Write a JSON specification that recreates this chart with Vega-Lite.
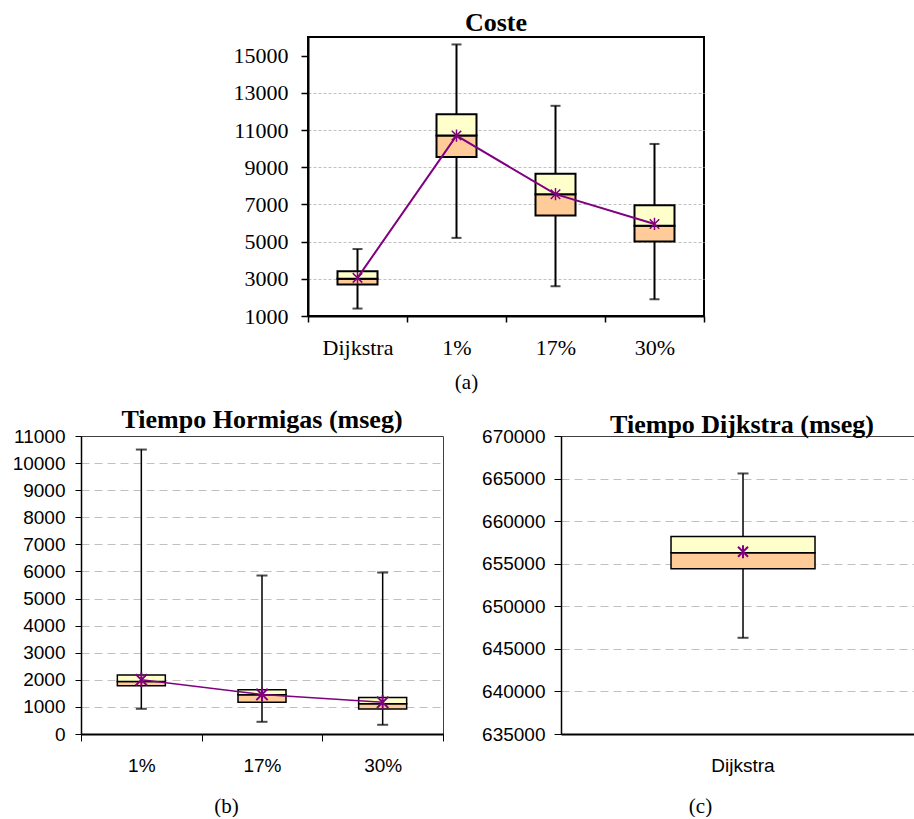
{
  "$schema": "https://vega.github.io/schema/vega-lite/v6.json",
  "padding": {"left": 11, "top": 9, "right": 0, "bottom": 0},
  "background": "white",
  "spacing": 13,
  "datasets": {
    "coste": [
      {"cat": "Dijkstra", "i": 0, "min": 1400, "q1": 2700, "median": 3000, "q3": 3400, "max": 4600, "mean": 3050},
      {"cat": "1%", "i": 1, "min": 5200, "q1": 9550, "median": 10700, "q3": 11850, "max": 15600, "mean": 10700},
      {"cat": "17%", "i": 2, "min": 2600, "q1": 6400, "median": 7550, "q3": 8650, "max": 12300, "mean": 7550},
      {"cat": "30%", "i": 3, "min": 1900, "q1": 5000, "median": 5850, "q3": 6950, "max": 10250, "mean": 5950}
    ],
    "hormigas": [
      {"cat": "1%", "i": 0, "min": 930, "q1": 1780, "median": 1940, "q3": 2175, "max": 10500, "mean": 2000},
      {"cat": "17%", "i": 1, "min": 450, "q1": 1170, "median": 1450, "q3": 1630, "max": 5850, "mean": 1460},
      {"cat": "30%", "i": 2, "min": 340, "q1": 920, "median": 1120, "q3": 1350, "max": 5960, "mean": 1170}
    ],
    "dijkstra": [
      {"cat": "Dijkstra", "i": 0, "min": 646300, "q1": 654400, "median": 656300, "q3": 658200, "max": 665600, "mean": 656400}
    ]
  },
  "config": {
    "view": {"stroke": "black"},
    "axis": {"domainColor": "black", "tickColor": "black", "labelColor": "black", "titleColor": "black", "gridColor": "#c0c0c0", "labelFont": "Liberation Sans", "titleFont": "Liberation Serif", "titleFontWeight": "normal", "labelOverlap": false, "labelBound": false},
    "title": {"font": "Liberation Serif", "fontWeight": "bold", "color": "black", "baseline": "alphabetic", "frame": "group"}
  },
  "vconcat": [
    {
      "bounds": "flush",
      "spacing": 226,
      "hconcat": [
        {"width": 1, "height": 1, "data": {"values": []}, "mark": "point", "view": {"stroke": null}},
        {
          "width": 396, "height": 279,
          "title": {"text": "Coste", "fontSize": 26, "offset": 1, "dx": -10, "frame": "group"},
          "view": {"stroke": "black", "strokeWidth": 2},
          "data": {"name": "coste"},
          "encoding": {
            "x": {"field": "cat", "type": "nominal", "sort": ["Dijkstra", "1%", "17%", "30%"],
              "scale": {"domain": ["Dijkstra", "1%", "17%", "30%"], "paddingInner": 0, "paddingOuter": 0},
              "axis": {"title": "(a)", "labelAngle": 0, "labelOverlap": false, "tickBand": "extent", "tickSize": 6, "tickWidth": 1.5, "domainWidth": 2, "labelFont": "Liberation Serif", "labelFontSize": 22, "labelPadding": 15, "titleFontSize": 21, "titlePadding": 13, "titleX": 158, "grid": false}}
          },
          "layer": [
            {"mark": {"type": "rule", "color": "black", "strokeWidth": 2},
             "encoding": {"y": {"field": "min", "type": "quantitative", "title": null, "scale": {"domain": [1000, 16000], "nice": false},
               "axis": {"values": [1000, 3000, 5000, 7000, 9000, 11000, 13000, 15000], "tickCount": 30, "format": "d", "labelOverlap": false, "labelFont": "Liberation Serif", "labelFontSize": 22, "tickSize": 7, "tickWidth": 1.5, "labelPadding": 13, "domainWidth": 2, "grid": true, "gridDash": [3, 2], "gridColor": {"condition": {"test": "datum.value > 14000", "value": "transparent"}, "value": "#c0c0c0"}, "title": null}},
               "y2": {"field": "max"}}},
            {"mark": {"type": "tick", "color": "black", "size": 10, "thickness": 2}, "encoding": {"y": {"field": "min", "type": "quantitative", "title": null}}},
            {"mark": {"type": "tick", "color": "black", "size": 10, "thickness": 2}, "encoding": {"y": {"field": "max", "type": "quantitative", "title": null}}},
            {"mark": {"type": "bar", "fill": "#FFCC99", "stroke": "black", "strokeWidth": 2, "size": 40}, "encoding": {"y": {"field": "q1", "type": "quantitative", "title": null}, "y2": {"field": "median"}}},
            {"mark": {"type": "bar", "fill": "#FFFFCC", "stroke": "black", "strokeWidth": 2, "size": 40}, "encoding": {"y": {"field": "median", "type": "quantitative", "title": null}, "y2": {"field": "q3"}}},
            {"mark": {"type": "line", "color": "#800080", "strokeWidth": 2}, "encoding": {"y": {"field": "mean", "type": "quantitative", "title": null}, "order": {"field": "i", "type": "quantitative"}}},
            {"mark": {"type": "point", "shape": "M-1,-1L1,1M-1,1L1,-1M0,-1.3L0,1.3", "filled": false, "stroke": "#800080", "strokeWidth": 1.5, "size": 90, "opacity": 1}, "encoding": {"y": {"field": "mean", "type": "quantitative", "title": null}}}
          ]
        }
      ]
    },
    {
      "bounds": "flush",
      "spacing": 118,
      "hconcat": [
        {
          "width": 362, "height": 298,
          "title": {"text": "Tiempo Hormigas (mseg)", "fontSize": 26, "offset": -6, "frame": "group"},
          "view": {"stroke": "#404040", "strokeWidth": 1},
          "data": {"name": "hormigas"},
          "encoding": {
            "x": {"field": "cat", "type": "nominal", "sort": ["1%", "17%", "30%"],
              "scale": {"domain": ["1%", "17%", "30%"], "paddingInner": 0, "paddingOuter": 0},
              "axis": {"title": "(b)", "labelAngle": 0, "labelOverlap": false, "tickBand": "extent", "tickSize": 7, "tickWidth": 1, "domainWidth": 2, "labelFontSize": 19, "labelPadding": 15, "titleFontSize": 21, "titlePadding": 20, "titleX": 145, "grid": false}}
          },
          "layer": [
            {"mark": {"type": "rule", "color": "black", "strokeWidth": 1.5},
             "encoding": {"y": {"field": "min", "type": "quantitative", "title": null, "scale": {"domain": [0, 11000], "nice": false},
               "axis": {"values": [0, 1000, 2000, 3000, 4000, 5000, 6000, 7000, 8000, 9000, 10000, 11000], "tickCount": 30, "format": "d", "labelOverlap": false, "labelFontSize": 19, "tickSize": 6, "labelPadding": 10, "domainWidth": 1.5, "grid": true, "gridDash": [8, 5], "gridColor": {"condition": {"test": "datum.value > 10500", "value": "transparent"}, "value": "#c0c0c0"}, "title": null}},
               "y2": {"field": "max"}}},
            {"mark": {"type": "tick", "color": "black", "size": 11, "thickness": 2}, "encoding": {"y": {"field": "min", "type": "quantitative", "title": null}}},
            {"mark": {"type": "tick", "color": "black", "size": 11, "thickness": 2}, "encoding": {"y": {"field": "max", "type": "quantitative", "title": null}}},
            {"mark": {"type": "bar", "fill": "#FFCC99", "stroke": "black", "strokeWidth": 1.5, "size": 48}, "encoding": {"y": {"field": "q1", "type": "quantitative", "title": null}, "y2": {"field": "median"}}},
            {"mark": {"type": "bar", "fill": "#FFFFCC", "stroke": "black", "strokeWidth": 1.5, "size": 48}, "encoding": {"y": {"field": "median", "type": "quantitative", "title": null}, "y2": {"field": "q3"}}},
            {"mark": {"type": "line", "color": "#800080", "strokeWidth": 1.5}, "encoding": {"y": {"field": "mean", "type": "quantitative", "title": null}, "order": {"field": "i", "type": "quantitative"}}},
            {"mark": {"type": "point", "shape": "M-1,-1L1,1M-1,1L1,-1M0,-1.3L0,1.3", "filled": false, "stroke": "#800080", "strokeWidth": 2, "size": 130, "opacity": 1}, "encoding": {"y": {"field": "mean", "type": "quantitative", "title": null}}}
          ]
        },
        {
          "width": 354, "height": 298,
          "title": {"text": "Tiempo Dijkstra (mseg)", "fontSize": 26, "offset": -11, "dx": 4, "frame": "group"},
          "view": {"stroke": "#404040", "strokeWidth": 1},
          "data": {"name": "dijkstra"},
          "encoding": {
            "x": {"field": "cat", "type": "nominal",
              "scale": {"domain": ["Dijkstra"], "paddingInner": 0, "paddingOuter": 0.1, "align": 0.585},
              "axis": {"title": "(c)", "labelAngle": 0, "labelOverlap": false, "tickSize": 7, "tickColor": "transparent", "domainWidth": 2, "labelFontSize": 19, "labelPadding": 15, "titleFontSize": 21, "titlePadding": 20, "titleX": 139, "grid": false}}
          },
          "layer": [
            {"mark": {"type": "rule", "color": "black", "strokeWidth": 1.5},
             "encoding": {"y": {"field": "min", "type": "quantitative", "title": null, "scale": {"domain": [635000, 670000], "nice": false},
               "axis": {"values": [635000, 640000, 645000, 650000, 655000, 660000, 665000, 670000], "tickCount": 30, "format": "d", "labelOverlap": false, "labelFontSize": 19, "tickSize": 7, "labelPadding": 9, "domainWidth": 1.5, "grid": true, "gridDash": [8, 5], "gridColor": {"condition": {"test": "datum.value > 667000", "value": "transparent"}, "value": "#c0c0c0"}, "title": null}},
               "y2": {"field": "max"}}},
            {"mark": {"type": "tick", "color": "black", "size": 11, "thickness": 2}, "encoding": {"y": {"field": "min", "type": "quantitative", "title": null}}},
            {"mark": {"type": "tick", "color": "black", "size": 11, "thickness": 2}, "encoding": {"y": {"field": "max", "type": "quantitative", "title": null}}},
            {"mark": {"type": "bar", "fill": "#FFCC99", "stroke": "black", "strokeWidth": 1.5, "size": 144}, "encoding": {"y": {"field": "q1", "type": "quantitative", "title": null}, "y2": {"field": "median"}}},
            {"mark": {"type": "bar", "fill": "#FFFFCC", "stroke": "black", "strokeWidth": 1.5, "size": 144}, "encoding": {"y": {"field": "median", "type": "quantitative", "title": null}, "y2": {"field": "q3"}}},
            {"mark": {"type": "point", "shape": "M-1,-1L1,1M-1,1L1,-1M0,-1.3L0,1.3", "filled": false, "stroke": "#800080", "strokeWidth": 2, "size": 100, "opacity": 1}, "encoding": {"y": {"field": "mean", "type": "quantitative", "title": null}}}
          ]
        }
      ]
    }
  ]
}
